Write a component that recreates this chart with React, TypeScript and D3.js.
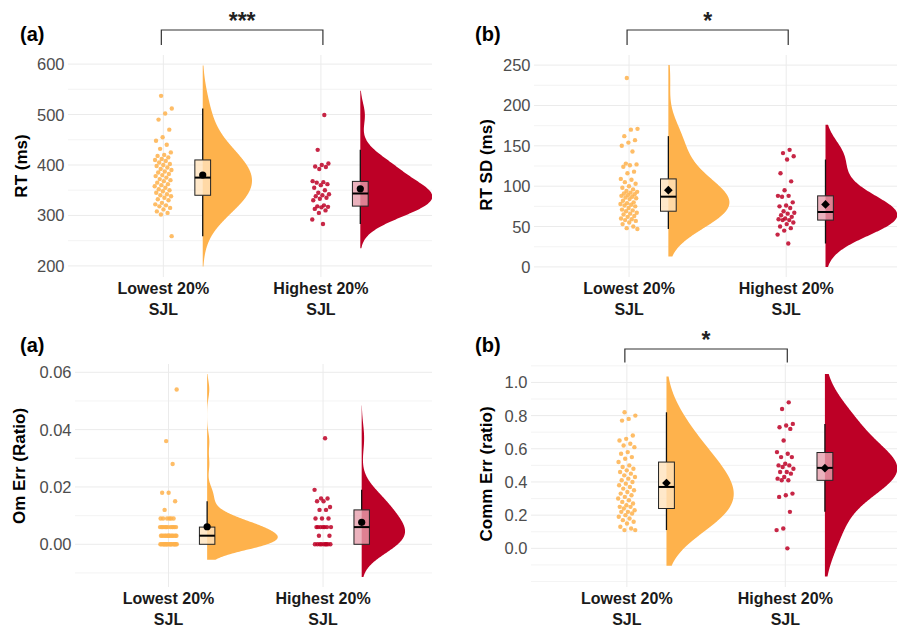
import React from "react";
import * as d3 from "d3";

// ---------- data ----------
const groupLabels = ["Lowest 20%", "Highest 20%"];
const groupSub = "SJL";
const panelTags = ["(a)", "(b)", "(a)", "(b)"];
const yTitles = ["RT (ms)", "RT SD (ms)", "Om Err (Ratio)", "Comm Err (ratio)"];
const sigLabels = ["***", "*", "", "*"];

const rtLowest = [537, 512, 502, 490, 470, 455, 448, 440, 432, 425, 420, 418, 415, 412, 410, 408, 405, 402, 400, 398, 395, 392, 390, 387, 385, 382, 380, 378, 375, 372, 370, 368, 365, 362, 360, 358, 355, 352, 350, 348, 345, 342, 340, 338, 335, 332, 330, 325, 322, 320, 318, 315, 312, 308, 305, 302, 259];
const rtHighest = [499, 430, 403, 400, 397, 396, 392, 368, 366, 365, 362, 360, 355, 350, 345, 342, 340, 338, 335, 333, 330, 320, 318, 317, 316, 313, 310, 305, 292, 283];

const sdLowest = [234, 171, 170, 162, 157, 154, 150, 143, 128, 127, 126, 124, 118, 116, 109, 108, 105, 103, 100, 98, 96, 94, 93, 92, 91, 90, 89, 88, 87, 86, 85, 84, 82, 80, 79, 78, 77, 76, 75, 73, 71, 70, 69, 67, 66, 65, 63, 62, 60, 59, 58, 57, 55, 53, 50, 48, 47];
const sdHighest = [145, 141, 137, 133, 116, 106, 95, 88, 88, 87, 80, 76, 75, 73, 69, 67, 66, 64, 62, 60, 59, 58, 58, 55, 53, 50, 48, 45, 40, 29];

const omLowest = [
  0, 0, 0, 0, 0, 0, 0, 0, 0, 0, 0, 0, 0, 0, 0, 0, 0, 0,
  0.003, 0.003, 0.003, 0.003, 0.003, 0.003, 0.003, 0.003, 0.003, 0.003, 0.003, 0.003, 0.003, 0.003,
  0.006, 0.006, 0.006, 0.006, 0.006, 0.006, 0.006, 0.006, 0.006, 0.006, 0.006, 0.006,
  0.009, 0.009, 0.009, 0.009, 0.009, 0.009,
  0.012, 0.015, 0.018, 0.018, 0.028, 0.036, 0.054,
];
const omHighest = [
  0, 0, 0, 0, 0, 0, 0, 0, 0,
  0.003, 0.003,
  0.006, 0.006, 0.006, 0.006, 0.006, 0.006, 0.006,
  0.009, 0.009, 0.009,
  0.012, 0.012, 0.013, 0.015, 0.015, 0.016, 0.016, 0.019, 0.037,
];

const ceLowest = [0.82, 0.8, 0.78, 0.77, 0.68, 0.66, 0.65, 0.63, 0.62, 0.61, 0.58, 0.57, 0.55, 0.54, 0.52, 0.5, 0.49, 0.48, 0.47, 0.46, 0.45, 0.44, 0.43, 0.42, 0.41, 0.4, 0.39, 0.38, 0.37, 0.36, 0.35, 0.34, 0.33, 0.32, 0.31, 0.3, 0.29, 0.28, 0.27, 0.26, 0.25, 0.25, 0.24, 0.23, 0.22, 0.22, 0.21, 0.2, 0.19, 0.18, 0.17, 0.16, 0.15, 0.13, 0.12, 0.11, 0.11];
const ceHighest = [0.88, 0.84, 0.75, 0.74, 0.73, 0.72, 0.65, 0.58, 0.57, 0.55, 0.55, 0.51, 0.5, 0.5, 0.49, 0.48, 0.46, 0.46, 0.45, 0.43, 0.42, 0.41, 0.41, 0.33, 0.32, 0.31, 0.22, 0.12, 0.11, 0.0];

// y ticks per panel
const ticksRT = [200, 300, 400, 500, 600];
const ticksSD = [0, 50, 100, 150, 200, 250];
const ticksOM = [0, 0.02, 0.04, 0.06];
const ticksCE = [0, 0.2, 0.4, 0.6, 0.8, 1.0];

// density bandwidths & tail extension
const bwRT = [40, 24];
const bwSD = [22, 19];
const bwOM = [0.003, 0.005];
const bwCE = [0.14, 0.13];
const extRT = [60, 48];
const extSD = [34, 31];
const extOM = [0.0054, 0.0114];
const extCE = [0.215, 0.17];

// ---------- layout / style ----------
const COLORS = ["#FEB24C", "#BD0026"];
const FONT = "'Liberation Sans', Arial, Helvetica, sans-serif";

type PanelCfg = {
  series: number[][];
  ticks: number[];
  fmt: (v: number) => string;
  domain: [number, number];
  limits?: [number, number];
  bw: number[];
  ext: number[];
  l: number; r: number; t: number; b: number;
  tag: string; tagX: number; tagY: number;
  title: string; titleX: number; titleY: number;
  sig: string; sigY: number; sigDrop: number;
  meanShape: "circle" | "diamond";
};

const panels: PanelCfg[] = [
  {
    series: [rtLowest, rtHighest], ticks: ticksRT, fmt: (v) => String(v), domain: [178, 618],
    bw: bwRT, ext: extRT, l: 68, r: 432, t: 55, b: 277,
    tag: panelTags[0], tagX: 20, tagY: 41, title: yTitles[0], titleX: 21, titleY: 166,
    sig: sigLabels[0], sigY: 30, sigDrop: 15, meanShape: "circle",
  },
  {
    series: [sdLowest, sdHighest], ticks: ticksSD, fmt: (v) => String(v), domain: [-12.5, 262.5], limits: [0, 250],
    bw: bwSD, ext: extSD, l: 534, r: 897, t: 55, b: 277,
    tag: panelTags[1], tagX: 475, tagY: 41, title: yTitles[1], titleX: 486, titleY: 165,
    sig: sigLabels[1], sigY: 30, sigDrop: 15, meanShape: "diamond",
  },
  {
    series: [omLowest, omHighest], ticks: ticksOM, fmt: (v) => v.toFixed(2), domain: [-0.0149, 0.0629],
    bw: bwOM, ext: extOM, l: 75, r: 432, t: 364, b: 587,
    tag: panelTags[2], tagX: 20, tagY: 352, title: yTitles[2], titleX: 19, titleY: 466,
    sig: sigLabels[2], sigY: 0, sigDrop: 0, meanShape: "circle",
  },
  {
    series: [ceLowest, ceHighest], ticks: ticksCE, fmt: (v) => v.toFixed(1), domain: [-0.233, 1.111],
    bw: bwCE, ext: extCE, l: 531, r: 897, t: 364, b: 587,
    tag: panelTags[3], tagX: 475, tagY: 352, title: yTitles[3], titleX: 486, titleY: 474,
    sig: sigLabels[3], sigY: 349, sigDrop: 13.5, meanShape: "diamond",
  },
];

function kde(values: number[], bw: number, lo: number, hi: number, n = 300) {
  const c = 1 / (values.length * bw * Math.sqrt(2 * Math.PI));
  return d3.range(n + 1).map((i) => {
    const yv = lo + ((hi - lo) * i) / n;
    const dens = c * d3.sum(values, (v) => Math.exp(-0.5 * ((yv - v) / bw) ** 2));
    return [yv, dens] as [number, number];
  });
}

function boxStats(vals: number[]) {
  const s = [...vals].sort(d3.ascending);
  const q1 = d3.quantileSorted(s, 0.25) as number;
  const med = d3.quantileSorted(s, 0.5) as number;
  const q3 = d3.quantileSorted(s, 0.75) as number;
  const iqr = q3 - q1;
  const eps = 1e-9;
  const lo = d3.min(s.filter((v) => v >= q1 - 1.5 * iqr - eps)) as number;
  const hi = d3.max(s.filter((v) => v <= q3 + 1.5 * iqr + eps)) as number;
  return { q1, med, q3, lo, hi, mean: d3.mean(s) as number };
}

const jitter = (i: number) => (((i * 0.6180339887 + 0.37) % 1) * 2 - 1);

function Panel({ p, idx }: { p: PanelCfg; idx: number }) {
  const x = d3.scaleLinear().domain([0.395, 2.705]).range([p.l, p.r]);
  const y = d3.scaleLinear().domain(p.domain).range([p.b, p.t]);
  const unit = x(2) - x(1);
  const step = p.ticks[1] - p.ticks[0];
  const minor: number[] = [];
  for (let k = -2; k <= p.ticks.length * 2 + 2; k++) {
    const v = p.ticks[0] + (k * step) / 2;
    if (v >= p.domain[0] && v <= p.domain[1] && !p.ticks.some((t) => Math.abs(t - v) < step / 100)) minor.push(v);
  }
  const dens = p.series.map((vals, gi) => {
    let lo = (d3.min(vals) as number) - p.ext[gi];
    let hi = (d3.max(vals) as number) + p.ext[gi];
    if (p.limits) {
      lo = Math.max(lo, p.limits[0]);
      hi = Math.min(hi, p.limits[1]);
    }
    return kde(vals, p.bw[gi], lo, hi);
  });
  const maxD = d3.max(dens.flat(), (d) => d[1]) as number;
  const w = d3.scaleLinear().domain([0, maxD]).range([0, 0.457 * unit]);
  const clipId = `clip-${idx}`;
  const cats = [1, 2];

  return (
    <g>
      <defs>
        <clipPath id={clipId}>
          <rect x={p.l} y={p.t} width={p.r - p.l} height={p.b - p.t} />
        </clipPath>
      </defs>
      {/* grid */}
      {minor.map((v) => (
        <line key={"mi" + v} x1={p.l} x2={p.r} y1={y(v)} y2={y(v)} stroke="#F0F0F0" strokeWidth={0.8} />
      ))}
      {p.ticks.map((v) => (
        <line key={"ma" + v} x1={p.l} x2={p.r} y1={y(v)} y2={y(v)} stroke="#EBEBEB" strokeWidth={1} />
      ))}
      {cats.map((c) => (
        <line key={"vc" + c} x1={x(c)} x2={x(c)} y1={p.t} y2={p.b} stroke="#EBEBEB" strokeWidth={1} />
      ))}
      {/* y tick labels */}
      {p.ticks.map((v) => (
        <text key={"tl" + v} x={p.l - 3.5} y={y(v)} textAnchor="end" dominantBaseline="central"
          fontFamily={FONT} fontSize={16.5} fill="#4D4D4D">{p.fmt(v)}</text>
      ))}
      {/* y title */}
      <text transform={`translate(${p.titleX},${p.titleY}) rotate(-90)`} textAnchor="middle" dominantBaseline="central"
        fontFamily={FONT} fontSize={17} fontWeight="bold" fill="#000">{p.title}</text>
      {/* tag */}
      <text x={p.tagX} y={p.tagY} fontFamily={FONT} fontSize={20} fontWeight="bold" fill="#000">{p.tag}</text>
      {/* x labels */}
      {cats.map((c, gi) => (
        <g key={"xl" + c}>
          <text x={x(c)} y={p.b + 16.5} textAnchor="middle" fontFamily={FONT} fontSize={16} fontWeight="bold" fill="#1A1A1A">{groupLabels[gi]}</text>
          <text x={x(c)} y={p.b + 38} textAnchor="middle" fontFamily={FONT} fontSize={16} fontWeight="bold" fill="#1A1A1A">{groupSub}</text>
        </g>
      ))}
      {/* significance bracket */}
      {p.sig && (
        <g>
          <path d={`M${x(1) - 2},${p.sigY + p.sigDrop}V${p.sigY}H${x(2) + 2}V${p.sigY + p.sigDrop}`}
            fill="none" stroke="#333" strokeWidth={1.2} />
          <text x={(x(1) + x(2)) / 2} y={p.sigY - 1} textAnchor="middle" fontFamily={FONT} fontSize={23} fontWeight="bold" fill="#222">{p.sig}</text>
        </g>
      )}
      <g clipPath={`url(#${clipId})`}>
        {/* points */}
        {p.series.map((vals, gi) =>
          vals.map((v, i) => (
            <circle key={`pt${gi}-${i}`} cx={x(cats[gi] + jitter(i + gi * 7) * 0.055)} cy={y(v)} r={2.2}
              fill={COLORS[gi]} fillOpacity={0.85} />
          ))
        )}
        {/* densities */}
        {dens.map((dd, gi) => {
          const base = x(cats[gi] + 0.25);
          const area = d3.area<[number, number]>()
            .y((d) => y(d[0]))
            .x0(base)
            .x1((d) => base + w(d[1]))
            .curve(d3.curveLinear);
          return <path key={"de" + gi} d={area(dd) as string} fill={COLORS[gi]} />;
        })}
        {/* boxes */}
        {p.series.map((vals, gi) => {
          const s = boxStats(vals);
          const base = x(cats[gi] + 0.25);
          const bw = 0.1 * unit;
          const ms = d3.symbol().type(d3.symbolDiamond2).size(48)();
          return (
            <g key={"bx" + gi}>
              <line x1={base} x2={base} y1={y(s.lo)} y2={y(s.q1)} stroke="#111" strokeWidth={1.3} />
              <line x1={base} x2={base} y1={y(s.q3)} y2={y(s.hi)} stroke="#111" strokeWidth={1.3} />
              <rect x={base - bw / 2} y={y(s.q3)} width={bw} height={y(s.q1) - y(s.q3)} fill="#FFFFFF" fillOpacity={0.72} />
              <rect x={base - bw / 2} y={y(s.q3)} width={bw} height={y(s.q1) - y(s.q3)} fill={COLORS[gi]} fillOpacity={0.3}
                stroke="#222" strokeWidth={1} />
              <line x1={base - bw / 2} x2={base + bw / 2} y1={y(s.med)} y2={y(s.med)} stroke="#000" strokeWidth={2} />
              {p.meanShape === "circle" ? (
                <circle cx={base} cy={y(s.mean)} r={3.6} fill="#000" />
              ) : (
                <path d={ms as string} transform={`translate(${base},${y(s.mean)})`} fill="#000" />
              )}
            </g>
          );
        })}
      </g>
    </g>
  );
}

export default function App() {
  return (
    <svg width={901} height={630} style={{ position: "absolute", left: 0, top: 0, background: "#fff" }}>
      <rect width={901} height={630} fill="#fff" />
      {panels.map((p, i) => (
        <Panel key={i} p={p} idx={i} />
      ))}
    </svg>
  );
}
